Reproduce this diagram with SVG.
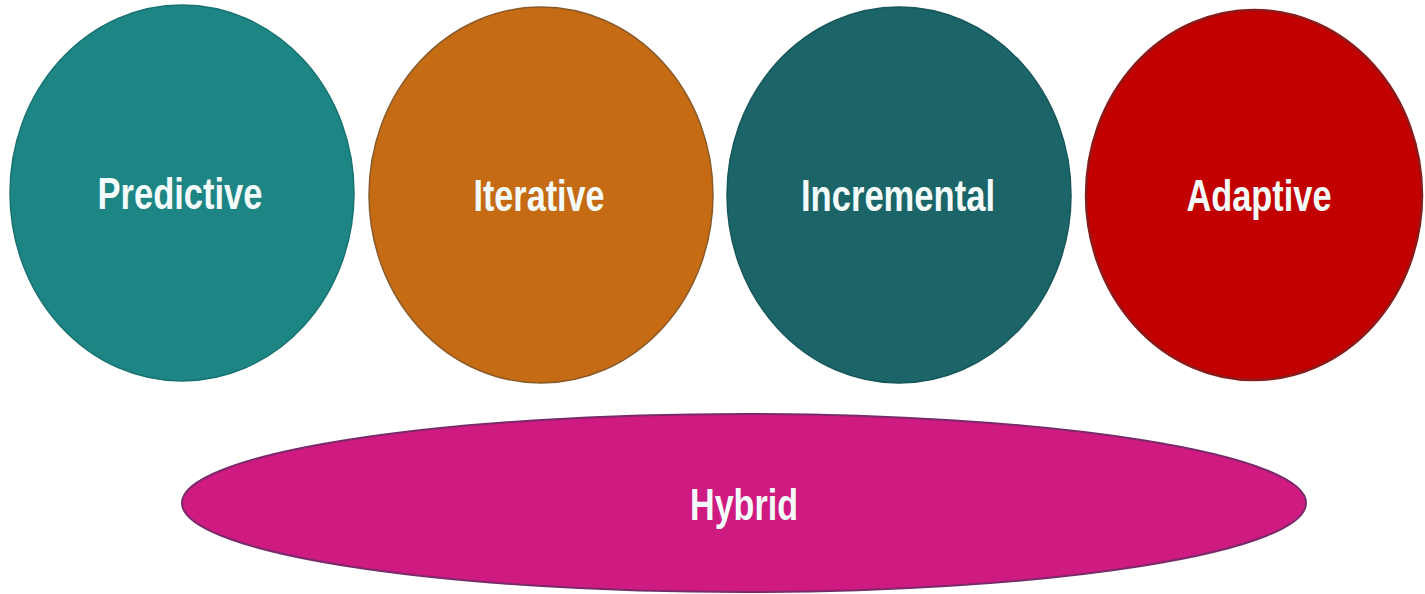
<svg xmlns="http://www.w3.org/2000/svg" width="1425" height="594" viewBox="0 0 1425 594">
<style>
.lbl{font-family:"Liberation Sans",Arial,sans-serif;font-weight:bold;font-size:44px;fill:#f4fbfb;text-anchor:middle}
</style>
<rect width="1425" height="594" fill="#ffffff"/>
<g id="predictive">
<ellipse cx="182" cy="193" rx="172" ry="188" fill="#1e8585" stroke="#1a7272" stroke-width="1.5"/>
<text class="lbl" x="180" y="209" textLength="165" lengthAdjust="spacingAndGlyphs">Predictive</text>
</g>
<g id="iterative">
<ellipse cx="541" cy="195" rx="172" ry="188" fill="#c46b14" stroke="#8a5a2a" stroke-width="1.5"/>
<text class="lbl" x="539" y="211" textLength="131" lengthAdjust="spacingAndGlyphs">Iterative</text>
</g>
<g id="incremental">
<ellipse cx="899" cy="195" rx="172" ry="188" fill="#1b6569" stroke="#175659" stroke-width="1.5"/>
<text class="lbl" x="898" y="211" textLength="194" lengthAdjust="spacingAndGlyphs">Incremental</text>
</g>
<g id="adaptive">
<ellipse cx="1254" cy="195" rx="168" ry="185" fill="#c20000" stroke="#8b1a1a" stroke-width="2.5"/>
<text class="lbl" x="1259" y="211" textLength="145" lengthAdjust="spacingAndGlyphs">Adaptive</text>
</g>
<g id="hybrid">
<ellipse cx="744" cy="503" rx="562" ry="89" fill="#cf1a82" stroke="#7a2a6a" stroke-width="2"/>
<text class="lbl" x="744" y="520" textLength="108" lengthAdjust="spacingAndGlyphs">Hybrid</text>
</g>
<g id="connectors"></g>
</svg>
